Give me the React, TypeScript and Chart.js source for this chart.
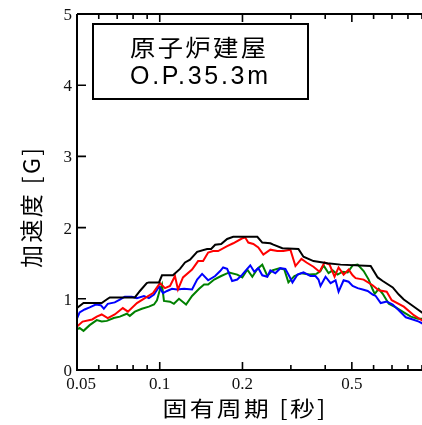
import React, { useEffect, useRef } from "react";
import { Chart, registerables } from "chart.js";

Chart.register(...registerables);

// ---- data (period [s], acceleration [G]) ----
const blackPeriods = [0.050,0.0528,0.0615,0.0641,0.0658,0.0812,0.0847,0.0897,0.0913,0.0994,0.1019,0.1117,0.1185,0.1236,0.1289,0.1368,0.1487,0.1538,0.1591,0.1673,0.1759,0.1851,0.2265,0.2361,0.2526,0.2590,0.2794,0.3196,0.3334,0.3625,0.4079,0.4550,0.5855,0.6210,0.6477,0.7043,0.7409,0.7727,0.8195,0.8688,0.9066];
const blackValues = [0.87,0.94,0.94,0.99,1.02,1.02,1.11,1.22,1.23,1.23,1.33,1.33,1.42,1.51,1.55,1.66,1.70,1.70,1.76,1.77,1.84,1.87,1.87,1.79,1.78,1.76,1.71,1.70,1.59,1.53,1.50,1.48,1.46,1.30,1.25,1.16,1.06,0.99,0.92,0.85,0.80];

const redPeriods = [0.050,0.0524,0.0568,0.0590,0.0615,0.0647,0.0686,0.0734,0.0766,0.0826,0.0883,0.0945,0.1002,0.1045,0.1090,0.1136,0.1165,0.1215,0.1311,0.1379,0.1438,0.1500,0.1564,0.1631,0.1759,0.1851,0.1997,0.2047,0.2100,0.2190,0.2284,0.2382,0.2526,0.2677,0.2818,0.2988,0.3117,0.3277,0.3419,0.3625,0.3813,0.3977,0.4148,0.4326,0.4474,0.4667,0.4866,0.5033,0.5161,0.5521,0.5950,0.6263,0.6696,0.6984,0.7727,0.8404,0.9066];
const redValues = [0.61,0.68,0.71,0.75,0.78,0.73,0.78,0.87,0.82,0.94,1.01,1.08,1.22,1.15,1.18,1.32,1.13,1.30,1.41,1.53,1.53,1.65,1.67,1.67,1.74,1.78,1.85,1.86,1.79,1.77,1.72,1.62,1.69,1.67,1.67,1.69,1.46,1.56,1.51,1.45,1.38,1.51,1.48,1.31,1.44,1.34,1.41,1.33,1.29,1.27,1.19,1.12,1.10,0.98,0.89,0.77,0.69];

const bluePeriods = [0.050,0.0511,0.0533,0.0556,0.0585,0.0610,0.0626,0.0647,0.0686,0.0716,0.0746,0.0791,0.0826,0.0876,0.0913,0.0953,0.0994,0.1028,0.1063,0.1108,0.1156,0.1226,0.1311,0.1368,0.1426,0.1500,0.1591,0.1659,0.1701,0.1759,0.1834,0.1914,0.1997,0.2047,0.2135,0.2208,0.2284,0.2361,0.2463,0.2526,0.2634,0.2747,0.2865,0.2939,0.3040,0.3170,0.3334,0.3535,0.3687,0.3781,0.3845,0.4011,0.4183,0.4362,0.4474,0.4667,0.4866,0.5033,0.5249,0.5475,0.5710,0.5955,0.6106,0.6368,0.6698,0.7043,0.7409,0.7857,0.8334,0.8766,0.9066];
const blueValues = [0.72,0.81,0.85,0.88,0.92,0.91,0.86,0.93,0.95,0.99,1.03,1.03,1.01,1.04,1.01,1.06,1.17,1.08,1.11,1.14,1.13,1.14,1.13,1.27,1.35,1.26,1.32,1.39,1.44,1.42,1.25,1.27,1.34,1.39,1.47,1.38,1.43,1.33,1.31,1.40,1.36,1.43,1.42,1.34,1.23,1.34,1.37,1.32,1.32,1.27,1.18,1.31,1.22,1.26,1.10,1.26,1.24,1.18,1.15,1.13,1.11,1.06,1.04,0.94,0.96,0.92,0.84,0.74,0.71,0.68,0.65];

const greenPeriods = [0.050,0.0511,0.0528,0.0556,0.0590,0.0615,0.0642,0.0680,0.0716,0.0759,0.0778,0.0812,0.0861,0.0913,0.0953,0.0977,0.1002,0.1019,0.1036,0.1090,0.1126,0.1175,0.1247,0.1311,0.1391,0.1450,0.1500,0.1578,0.1673,0.1789,0.1914,0.1997,0.2082,0.2172,0.2265,0.2361,0.2463,0.2569,0.2724,0.2841,0.2939,0.3090,0.3277,0.3505,0.3718,0.3845,0.3944,0.4114,0.4255,0.4436,0.4628,0.4827,0.5033,0.5249,0.5521,0.5758,0.5955,0.6056,0.6263,0.6477,0.6812,0.7224,0.7727,0.8195,0.8688,0.9066];
const greenValues = [0.57,0.59,0.55,0.63,0.70,0.68,0.69,0.73,0.75,0.79,0.76,0.82,0.86,0.89,0.92,0.98,1.13,1.20,0.97,0.96,0.93,1.00,0.92,1.04,1.14,1.20,1.20,1.27,1.32,1.37,1.34,1.30,1.41,1.31,1.42,1.48,1.32,1.40,1.43,1.41,1.23,1.32,1.36,1.34,1.35,1.39,1.47,1.36,1.40,1.34,1.38,1.37,1.47,1.48,1.39,1.27,1.13,1.07,1.14,1.07,0.93,0.88,0.81,0.75,0.72,0.72];

// ---- axes ----
const xMin = 0.05;
const xMax = 0.9;
const yMin = 0;
const yMax = 5;
const xLabelValues = [0.05, 0.1, 0.2, 0.5];
const xLabelTexts = ["0.05", "0.1", "0.2", "0.5"];
const xMajorTicks = [0.1, 0.2, 0.5];
const xMinorTicks = [0.06, 0.07, 0.08, 0.09, 0.3, 0.4, 0.6, 0.7, 0.8, 0.9];
const yTickValues = [0, 1, 2, 3, 4, 5];
const xTitle = "固有周期 [秒]";
const yTitle = "加速度 [G]";
const boxLine1 = "原子炉建屋";
const boxLine2 = "O.P.35.3m";

const toPoints = (xs: number[], ys: number[]) => xs.map((p, i) => ({ x: p, y: ys[i] }));

// draws text centred at (cx, cy), stretched horizontally by sx, spaced to fill targetWidth
function drawSpaced(ctx: CanvasRenderingContext2D, text: string, cx: number, cy: number, targetWidth: number, sx = 1) {
  const anyCtx = ctx as any;
  ctx.save();
  ctx.translate(cx, cy);
  ctx.scale(sx, 1);
  const tw = targetWidth / sx;
  anyCtx.letterSpacing = "0px";
  const w0 = ctx.measureText(text).width;
  const n = Array.from(text).length;
  const sp = n > 1 ? (tw - w0) / (n - 1) : 0;
  ctx.textAlign = "left";
  if ("letterSpacing" in anyCtx) {
    anyCtx.letterSpacing = sp + "px";
    ctx.fillText(text, -tw / 2, 0);
    anyCtx.letterSpacing = "0px";
  } else {
    let x = -tw / 2;
    for (const ch of Array.from(text)) {
      ctx.fillText(ch, x, 0);
      x += ctx.measureText(ch).width + sp;
    }
  }
  ctx.restore();
}

const framePlugin = {
  id: "frameAndLabels",
  afterDatasetsDraw(chart: any) {
    const { ctx, chartArea: a, scales } = chart;
    const xs = scales.x;
    const ys = scales.y;
    ctx.save();
    ctx.strokeStyle = "#000";
    ctx.lineWidth = 2;
    ctx.beginPath();
    ctx.moveTo(a.left, a.top);
    ctx.lineTo(a.left, a.bottom);
    ctx.lineTo(a.right, a.bottom);
    ctx.moveTo(a.left, a.top);
    ctx.lineTo(a.right, a.top);
    ctx.stroke();

    // ticks (inward)
    ctx.lineWidth = 1.6;
    ctx.beginPath();
    xMajorTicks.forEach((v) => {
      const px = xs.getPixelForValue(v);
      ctx.moveTo(px, a.bottom);
      ctx.lineTo(px, a.bottom - 8);
      ctx.moveTo(px, a.top);
      ctx.lineTo(px, a.top + 8);
    });
    xMinorTicks.forEach((v) => {
      const px = xs.getPixelForValue(v);
      ctx.moveTo(px, a.bottom);
      ctx.lineTo(px, a.bottom - 5);
      ctx.moveTo(px, a.top);
      ctx.lineTo(px, a.top + 5);
    });
    yTickValues.forEach((v) => {
      if (v === yMin || v === yMax) return;
      const py = ys.getPixelForValue(v);
      ctx.moveTo(a.left, py);
      ctx.lineTo(a.left + 9, py);
    });
    ctx.stroke();

    // tick labels
    ctx.fillStyle = "#111";
    ctx.font = '17px "Liberation Serif", "DejaVu Serif", serif';
    ctx.textBaseline = "alphabetic";
    ctx.textAlign = "center";
    xLabelValues.forEach((v, i) => {
      const px = xs.getPixelForValue(v) + (i === 0 ? 4 : 0);
      ctx.fillText(xLabelTexts[i], px, a.bottom + 19);
    });
    ctx.textAlign = "right";
    yTickValues.forEach((v) => {
      const py = ys.getPixelForValue(v);
      ctx.fillText(String(v), a.left - 5, py + 6);
    });

    // axis titles
    ctx.fillStyle = "#000";
    ctx.textBaseline = "middle";
    ctx.font = '21px "Noto Sans CJK JP", "Noto Sans", sans-serif';
    drawSpaced(ctx, xTitle, 244, 408, 163, 1.18);
    ctx.save();
    ctx.translate(31, 208);
    ctx.rotate(-Math.PI / 2);
    ctx.font = '23px "Noto Sans CJK JP", "Noto Sans", sans-serif';
    drawSpaced(ctx, yTitle, 0, 0, 120, 1.0);
    ctx.restore();

    // annotation box
    ctx.lineWidth = 2;
    ctx.strokeRect(93, 24, 215, 75);
    ctx.font = '23px "Noto Sans CJK JP", "Noto Sans", sans-serif';
    drawSpaced(ctx, boxLine1, 198, 47, 136, 1.1);
    ctx.font = '25px "Liberation Sans", Arial, sans-serif';
    drawSpaced(ctx, boxLine2, 199, 77, 138, 1.0);
    ctx.restore();
  },
};

export default function App() {
  const ref = useRef<HTMLCanvasElement | null>(null);
  useEffect(() => {
    if (!ref.current) return;
    const mk = (label: string, xs: number[], ys: number[], color: string) => ({
      label,
      data: toPoints(xs, ys),
      borderColor: color,
      backgroundColor: color,
      borderWidth: 2,
      pointRadius: 0,
      tension: 0,
      fill: false,
    });
    const chart = new Chart(ref.current, {
      type: "line",
      data: {
        datasets: [
          mk("black", blackPeriods, blackValues, "#000000"),
          mk("red", redPeriods, redValues, "#ff0000"),
          mk("blue", bluePeriods, blueValues, "#0000ff"),
          mk("green", greenPeriods, greenValues, "#008000"),
        ],
      },
      options: {
        animation: false,
        responsive: false,
        devicePixelRatio: 1,
        layout: { padding: { left: 77, top: 14, right: 0, bottom: 55 } },
        plugins: { legend: { display: false }, tooltip: { enabled: false } },
        scales: {
          x: { type: "logarithmic", min: xMin, max: xMax, display: false },
          y: { type: "linear", min: yMin, max: yMax, display: false },
        },
      },
      plugins: [framePlugin],
    });
    return () => chart.destroy();
  }, []);
  return (
    <div style={{ position: "absolute", left: 0, top: 0, width: 422, height: 425, background: "#fff" }}>
      <canvas ref={ref} width={422} height={425} style={{ width: 422, height: 425, display: "block" }} />
    </div>
  );
}
